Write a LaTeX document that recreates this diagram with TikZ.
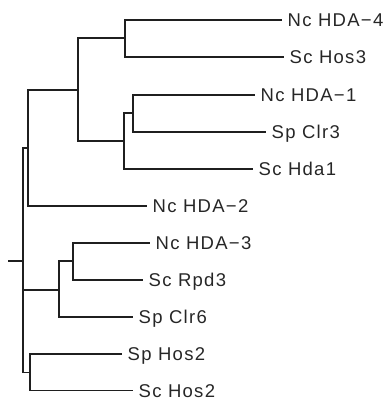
\documentclass[tikz,border=0pt]{standalone}
\usepackage{fontspec}
\newfontfamily\labfont{Liberation Sans}[LetterSpace=7]
\tikzset{
  tree/.style={line width=1.9pt, black!88, line join=miter},
  leaf/.style={anchor=west, inner xsep=5.5pt, inner ysep=0pt,
    font=\labfont\fontsize{18.5}{20}\selectfont, text=black!85,
    text height=13.2pt, text depth=0pt}
}
\begin{document}
\begin{tikzpicture}[x=1pt,y=-1pt]
\useasboundingbox (0,0) rectangle (389,400);
% leaves
\node[leaf] (l1) at (282,20) {Nc HDA−4};
\node[leaf] (l2) at (284,57) {Sc Hos3};
\node[leaf] (l3) at (255,95) {Nc HDA−1};
\node[leaf] (l4) at (266,132) {Sp Clr3};
\node[leaf] (l5) at (253,169) {Sc Hda1};
\node[leaf] (l6) at (147,206) {Nc HDA−2};
\node[leaf] (l7) at (150,243) {Nc HDA−3};
\node[leaf] (l8) at (143,280) {Sc Rpd3};
\node[leaf] (l9) at (133,317) {Sp Clr6};
\node[leaf] (l10) at (122,354) {Sp Hos2};
\node[leaf] (l11) at (133,390.5) {Sc Hos2};
% internal nodes
\coordinate (t) at (8,261);
\coordinate (r) at (23,261);
\coordinate (A) at (28,148);
\coordinate (B) at (78,90);
\coordinate (C) at (125,38);
\coordinate (D) at (124,141);
\coordinate (E) at (133,113);
\coordinate (F) at (59,290);
\coordinate (G) at (73,261);
\coordinate (H) at (30,372.5);
% branches
\draw[tree] (t) -- (r);
\draw[tree] (r) |- (A);
\draw[tree] (r) |- (F);
\draw[tree] (r) |- (H);
\draw[tree] (A) |- (B);
\draw[tree] (A) |- (l6.west);
\draw[tree] (B) |- (C);
\draw[tree] (B) |- (D);
\draw[tree] (C) |- (l1.west);
\draw[tree] (C) |- (l2.west);
\draw[tree] (D) |- (E);
\draw[tree] (D) |- (l5.west);
\draw[tree] (E) |- (l3.west);
\draw[tree] (E) |- (l4.west);
\draw[tree] (F) |- (G);
\draw[tree] (F) |- (l9.west);
\draw[tree] (G) |- (l7.west);
\draw[tree] (G) |- (l8.west);
\draw[tree] (H) |- (l10.west);
\draw[tree] (H) |- (l11.west);
\end{tikzpicture}
\end{document}
